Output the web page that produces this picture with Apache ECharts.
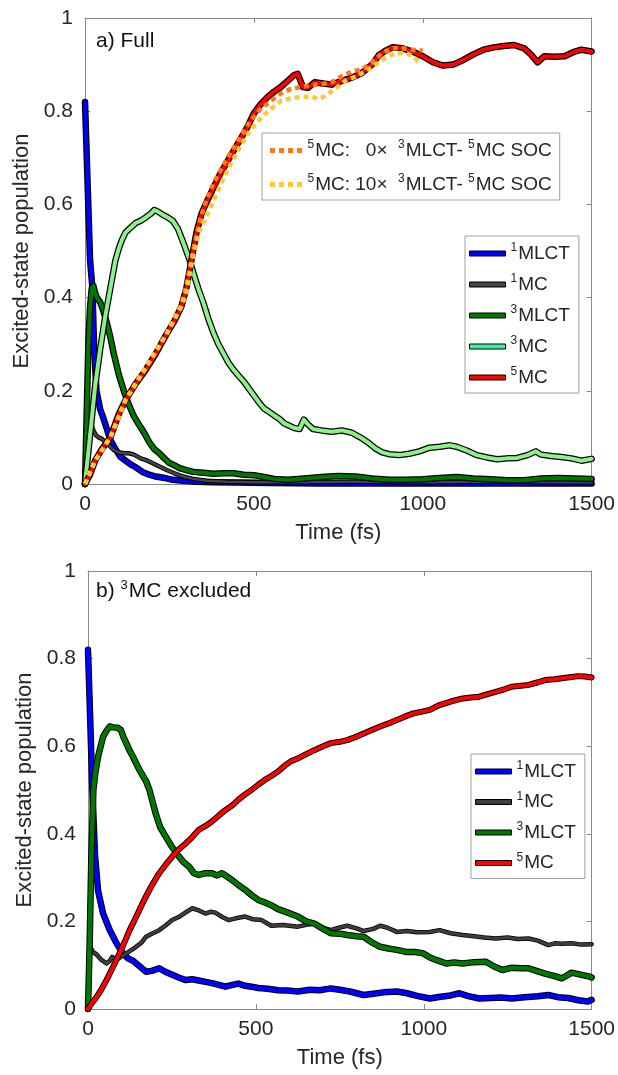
<!DOCTYPE html>
<html lang="en">
<head>
    <meta charset="UTF-8"/>
    <title>Excited-state population</title>
    <script src="https://cdn.jsdelivr.net/npm/echarts@6/dist/echarts.min.js"></script>
    <style>
        html, body { margin: 0; padding: 0; background: #fff; }
        #chart { width: 618px; height: 1075px; }
    </style>
</head>
<body>
<div id="chart"></div>
<script type="text/javascript">
    // ---- panel a) Full ----
    var tA_1MLCT = [0, 15, 22, 27, 34, 45, 55, 75, 90, 105, 120, 135, 150, 170, 190, 210, 235, 260, 290, 330, 380, 450, 550, 700, 900, 1100, 1300, 1500];
    var vA_1MLCT = [0.82, 0.48, 0.42, 0.29, 0.2, 0.16, 0.14, 0.095, 0.075, 0.058, 0.05, 0.042, 0.036, 0.026, 0.02, 0.016, 0.013, 0.009, 0.007, 0.005, 0.004, 0.003, 0.002, 0.001, 0.001, 0.001, 0.001, 0.001];

    var tA_1MC = [0, 8, 15, 20, 25, 32, 40, 50, 65, 85, 100, 115, 130, 145, 165, 185, 205, 225, 245, 265, 290, 320, 360, 420, 500, 600, 800, 1000, 1200, 1400, 1500];
    var vA_1MC = [0, 0.08, 0.12, 0.125, 0.115, 0.105, 0.1, 0.097, 0.087, 0.073, 0.068, 0.066, 0.066, 0.063, 0.055, 0.05, 0.043, 0.036, 0.029, 0.023, 0.016, 0.011, 0.007, 0.005, 0.004, 0.004, 0.005, 0.004, 0.005, 0.004, 0.004];

    var tA_3MLCT = [0, 5, 10, 15, 20, 25, 30, 35, 45, 55, 65, 75, 85, 100, 115, 130, 145, 160, 175, 190, 205, 220, 235, 250, 265, 280, 300, 320, 350, 380, 410, 440, 470, 500, 530, 560, 600, 650, 700, 750, 800, 850, 900, 950, 1000, 1050, 1100, 1150, 1200, 1250, 1300, 1350, 1400, 1450, 1500];
    var vA_3MLCT = [0, 0.15, 0.3, 0.38, 0.42, 0.425, 0.41, 0.4, 0.39, 0.37, 0.345, 0.315, 0.28, 0.235, 0.2, 0.17, 0.145, 0.127, 0.11, 0.09, 0.075, 0.066, 0.055, 0.045, 0.04, 0.034, 0.03, 0.026, 0.024, 0.022, 0.023, 0.023, 0.02, 0.019, 0.015, 0.011, 0.009, 0.012, 0.015, 0.017, 0.016, 0.012, 0.009, 0.009, 0.01, 0.013, 0.015, 0.012, 0.01, 0.008, 0.008, 0.012, 0.013, 0.012, 0.011];

    var tA_3MC = [0, 10, 20, 30, 45, 60, 75, 90, 100, 110, 120, 135, 150, 165, 180, 195, 205, 215, 230, 245, 260, 275, 290, 300, 310, 320, 335, 350, 365, 380, 395, 410, 425, 440, 455, 470, 485, 500, 515, 530, 545, 560, 575, 590, 605, 620, 635, 648, 660, 675, 700, 730, 760, 790, 820, 840, 860, 880, 900, 930, 960, 990, 1020, 1050, 1080, 1100, 1130, 1160, 1190, 1220, 1250, 1280, 1310, 1335, 1350, 1380, 1410, 1440, 1470, 1500];
    var vA_3MC = [0, 0.07, 0.14, 0.21, 0.29, 0.36, 0.42, 0.48, 0.505, 0.525, 0.54, 0.55, 0.56, 0.565, 0.572, 0.58, 0.588, 0.585, 0.578, 0.572, 0.565, 0.548, 0.52, 0.5, 0.48, 0.455, 0.42, 0.39, 0.355, 0.325, 0.3, 0.28, 0.26, 0.245, 0.232, 0.22, 0.205, 0.19, 0.175, 0.162, 0.155, 0.147, 0.14, 0.13, 0.125, 0.12, 0.118, 0.138, 0.128, 0.118, 0.115, 0.112, 0.115, 0.11, 0.098, 0.088, 0.076, 0.068, 0.064, 0.062, 0.065, 0.07, 0.078, 0.08, 0.083, 0.08, 0.072, 0.062, 0.057, 0.053, 0.055, 0.056, 0.062, 0.07, 0.063, 0.06, 0.058, 0.055, 0.05, 0.054];

    var tA_5MC = [0, 15, 30, 50, 75, 100, 120, 150, 180, 210, 240, 265, 285, 300, 315, 330, 345, 360, 380, 400, 420, 440, 460, 480, 500, 520, 540, 560, 580, 600, 620, 630, 645, 660, 680, 700, 730, 760, 790, 820, 850, 870, 890, 910, 940, 970, 1000, 1030, 1060, 1090, 1120, 1150, 1180, 1210, 1240, 1270, 1300, 1320, 1340, 1360, 1390, 1420, 1450, 1470, 1500];
    var vA_5MC = [0, 0.02, 0.05, 0.075, 0.1, 0.15, 0.18, 0.215, 0.245, 0.28, 0.32, 0.35, 0.38, 0.42, 0.48, 0.54, 0.58, 0.605, 0.635, 0.665, 0.69, 0.715, 0.74, 0.765, 0.795, 0.815, 0.83, 0.842, 0.852, 0.865, 0.878, 0.88, 0.852, 0.85, 0.862, 0.86, 0.857, 0.865, 0.872, 0.882, 0.9, 0.92, 0.93, 0.937, 0.935, 0.928, 0.918, 0.905, 0.898, 0.9, 0.91, 0.922, 0.932, 0.937, 0.94, 0.942, 0.935, 0.922, 0.905, 0.918, 0.917, 0.918, 0.928, 0.932, 0.928];

    var tA_soc0 = [0, 30, 75, 120, 180, 240, 285, 300, 320, 340, 360, 380, 400, 430, 460, 490, 520, 550, 580, 610, 640, 670, 700, 730, 760, 790, 820, 850, 880, 910, 940, 970, 1000];
    var vA_soc0 = [0, 0.05, 0.1, 0.18, 0.25, 0.32, 0.385, 0.425, 0.5, 0.565, 0.61, 0.645, 0.672, 0.71, 0.745, 0.78, 0.805, 0.822, 0.838, 0.848, 0.852, 0.856, 0.858, 0.862, 0.875, 0.885, 0.89, 0.905, 0.925, 0.935, 0.935, 0.932, 0.93];

    var tA_soc10 = [0, 30, 75, 120, 180, 240, 285, 300, 320, 340, 370, 400, 430, 460, 490, 520, 550, 580, 610, 640, 670, 690, 710, 740, 770, 800, 830, 860, 890, 920, 950, 970, 990];
    var vA_soc10 = [0, 0.05, 0.1, 0.18, 0.25, 0.32, 0.38, 0.41, 0.49, 0.545, 0.59, 0.64, 0.685, 0.725, 0.76, 0.785, 0.805, 0.822, 0.828, 0.83, 0.832, 0.826, 0.832, 0.848, 0.865, 0.874, 0.885, 0.9, 0.915, 0.925, 0.925, 0.918, 0.905];

    // ---- panel b) 3MC excluded ----
    var tB_1MLCT = [0, 5, 13, 21, 30, 45, 65, 85, 104, 120, 134, 150, 173, 190, 212, 230, 251, 270, 291, 310, 330, 350, 369, 390, 409, 430, 448, 468, 487, 507, 527, 546, 566, 595, 625, 660, 690, 723, 750, 780, 821, 850, 880, 920, 950, 980, 1018, 1050, 1080, 1106, 1130, 1165, 1200, 1230, 1263, 1300, 1340, 1371, 1400, 1430, 1460, 1489, 1500];
    var vB_1MLCT = [0.82, 0.7, 0.5, 0.35, 0.27, 0.218, 0.18, 0.15, 0.127, 0.115, 0.11, 0.1, 0.085, 0.087, 0.093, 0.085, 0.078, 0.072, 0.066, 0.068, 0.065, 0.062, 0.059, 0.055, 0.051, 0.055, 0.058, 0.053, 0.051, 0.048, 0.047, 0.045, 0.043, 0.042, 0.04, 0.044, 0.043, 0.047, 0.044, 0.04, 0.032, 0.035, 0.038, 0.04, 0.036, 0.03, 0.024, 0.028, 0.031, 0.036, 0.03, 0.024, 0.025, 0.026, 0.024, 0.027, 0.029, 0.032, 0.027, 0.025, 0.02, 0.017, 0.021];

    var tB_1MC = [0, 4, 8, 15, 25, 40, 55, 65, 72, 84, 100, 114, 130, 143, 160, 173, 190, 212, 230, 251, 270, 290, 310, 330, 350, 365, 379, 400, 418, 440, 468, 490, 517, 546, 580, 625, 650, 674, 700, 723, 750, 772, 800, 821, 850, 870, 890, 920, 950, 980, 1018, 1047, 1080, 1116, 1150, 1180, 1214, 1250, 1280, 1312, 1340, 1371, 1390, 1411, 1440, 1470, 1500];
    var vB_1MC = [0, 0.15, 0.14, 0.13, 0.125, 0.112, 0.104, 0.11, 0.119, 0.112, 0.12, 0.127, 0.135, 0.142, 0.152, 0.165, 0.172, 0.18, 0.19, 0.203, 0.21, 0.22, 0.23, 0.225, 0.218, 0.222, 0.22, 0.21, 0.203, 0.207, 0.211, 0.205, 0.203, 0.19, 0.192, 0.188, 0.192, 0.195, 0.186, 0.18, 0.186, 0.19, 0.184, 0.178, 0.183, 0.19, 0.186, 0.176, 0.178, 0.175, 0.176, 0.18, 0.173, 0.169, 0.166, 0.163, 0.161, 0.163, 0.16, 0.161, 0.156, 0.146, 0.15, 0.149, 0.15, 0.147, 0.148];

    var tB_3MLCT = [0, 5, 10, 16, 22, 30, 45, 55, 65, 75, 89, 98, 106, 114, 124, 134, 153, 173, 183, 202, 215, 232, 250, 271, 285, 301, 315, 330, 350, 369, 385, 399, 415, 428, 448, 468, 487, 507, 527, 546, 566, 595, 625, 650, 674, 700, 723, 750, 772, 800, 821, 845, 870, 895, 920, 950, 975, 998, 1020, 1037, 1067, 1090, 1116, 1150, 1184, 1210, 1234, 1260, 1290, 1312, 1340, 1361, 1390, 1411, 1425, 1440, 1470, 1494, 1500];
    var vB_3MLCT = [0, 0.15, 0.35, 0.5, 0.54, 0.576, 0.622, 0.635, 0.645, 0.643, 0.642, 0.637, 0.62, 0.607, 0.59, 0.576, 0.546, 0.52, 0.5, 0.445, 0.415, 0.393, 0.37, 0.348, 0.335, 0.325, 0.31, 0.306, 0.31, 0.31, 0.305, 0.31, 0.302, 0.295, 0.283, 0.272, 0.26, 0.249, 0.243, 0.237, 0.228, 0.22, 0.211, 0.2, 0.195, 0.183, 0.173, 0.172, 0.169, 0.166, 0.165, 0.152, 0.142, 0.138, 0.135, 0.13, 0.13, 0.127, 0.117, 0.112, 0.104, 0.106, 0.104, 0.107, 0.108, 0.097, 0.089, 0.094, 0.093, 0.093, 0.086, 0.081, 0.075, 0.07, 0.076, 0.083, 0.078, 0.074, 0.072];

    var tB_5MC = [0, 10, 26, 40, 55, 75, 94, 110, 124, 140, 153, 168, 183, 198, 212, 232, 251, 270, 291, 310, 330, 350, 369, 390, 409, 430, 448, 468, 487, 507, 527, 546, 566, 585, 605, 625, 650, 674, 700, 723, 750, 772, 800, 821, 845, 870, 895, 920, 945, 969, 995, 1018, 1047, 1080, 1116, 1140, 1165, 1190, 1214, 1240, 1263, 1290, 1312, 1340, 1361, 1390, 1411, 1440, 1460, 1480, 1500];
    var vB_5MC = [0, 0.012, 0.028, 0.045, 0.066, 0.097, 0.127, 0.155, 0.18, 0.205, 0.226, 0.25, 0.272, 0.292, 0.31, 0.33, 0.348, 0.364, 0.378, 0.392, 0.409, 0.418, 0.428, 0.442, 0.454, 0.465, 0.478, 0.49, 0.5, 0.512, 0.523, 0.532, 0.542, 0.555, 0.566, 0.572, 0.582, 0.591, 0.6, 0.607, 0.61, 0.614, 0.622, 0.629, 0.637, 0.645, 0.652, 0.66, 0.668, 0.675, 0.679, 0.683, 0.694, 0.702, 0.709, 0.711, 0.713, 0.719, 0.724, 0.73, 0.736, 0.738, 0.74, 0.746, 0.751, 0.753, 0.755, 0.758, 0.76, 0.759, 0.757];

    var xTicks = [0, 1500, 500];   // min, max, interval
    var yTicks = [0, 1, 0.2];

    var FONT = "'Liberation Sans', Arial, Helvetica, sans-serif";
    var TXT = '#262626';
    var AX = '#8a8a8a';

    function zip(t, v) {
        var out = [];
        for (var i = 0; i < t.length; i++) out.push([t[i], v[i]]);
        return out;
    }

    var series = [];
    // 每条曲线 = 黑色描边 + 彩色线
    function addCurve(name, t, v, color, wEdge, wLine, xi, yi) {
        var d = zip(t, v);
        series.push({
            type: 'line', name: name + '#edge', data: d, xAxisIndex: xi, yAxisIndex: yi,
            symbol: 'none', showSymbol: false, clip: false, silent: true, animation: false,
            lineStyle: {color: '#000', width: wEdge, join: 'round', cap: 'round'}
        });
        series.push({
            type: 'line', name: name, data: d, xAxisIndex: xi, yAxisIndex: yi,
            symbol: 'none', showSymbol: false, clip: false, silent: true, animation: false,
            color: color, itemStyle: {color: color},
            lineStyle: {color: color, width: wLine, join: 'round', cap: 'round'}
        });
    }
    function addDotted(name, t, v, color, xi, yi) {
        series.push({
            type: 'line', name: name, data: zip(t, v), xAxisIndex: xi, yAxisIndex: yi,
            symbol: 'none', showSymbol: false, clip: false, silent: true, animation: false,
            color: color, itemStyle: {color: color},
            lineStyle: {color: color, width: 4.5, type: [5, 4], cap: 'butt'}
        });
    }

    addCurve('1MLCT', tA_1MLCT, vA_1MLCT, '#0000ff', 6.5, 4, 0, 0);
    addCurve('1MC', tA_1MC, vA_1MC, '#454545', 4.5, 2.5, 0, 0);
    addCurve('3MLCT', tA_3MLCT, vA_3MLCT, '#007800', 6.5, 4, 0, 0);
    addCurve('3MC', tA_3MC, vA_3MC, '#8ff08b', 6.5, 4, 0, 0);
    addCurve('5MC', tA_5MC, vA_5MC, '#ff0000', 6.5, 4, 0, 0);
    addDotted('soc0', tA_soc0, vA_soc0, '#f97a1c', 0, 0);
    addDotted('soc10', tA_soc10, vA_soc10, '#ffc83a', 0, 0);

    addCurve('b:1MLCT', tB_1MLCT, vB_1MLCT, '#0000ff', 6.5, 4.5, 2, 2);
    addCurve('b:1MC', tB_1MC, vB_1MC, '#3d3d3d', 4.5, 3, 2, 2);
    addCurve('b:3MLCT', tB_3MLCT, vB_3MLCT, '#007800', 6.5, 4.5, 2, 2);
    addCurve('b:5MC', tB_5MC, vB_5MC, '#ff0000', 6, 4, 2, 2);

    var supRich = {
        s: {fontSize: 12, fontFamily: FONT, color: TXT, padding: [0, 1, 11, 0]},
        n: {fontSize: 19, fontFamily: FONT, color: TXT}
    };

    function stateLabel(name) {
        var n = name.replace(/^b:/, '');
        return '{s|' + n.charAt(0) + '}{n|' + n.slice(1) + '}';
    }

    function plainNum(v) { return String(v); }

    function xAxes(gi) {
        return [{
            type: 'value', gridIndex: gi, position: 'bottom',
            min: xTicks[0], max: xTicks[1], interval: xTicks[2],
            name: 'Time (fs)', nameLocation: 'middle', nameGap: 38,
            nameTextStyle: {fontSize: 22, fontFamily: FONT, color: TXT},
            axisLine: {show: true, onZero: false, lineStyle: {color: AX, width: 1}},
            axisTick: {show: true, inside: true, length: 5, lineStyle: {color: AX}},
            axisLabel: {fontSize: 21, fontFamily: FONT, color: TXT, margin: 10, formatter: plainNum},
            splitLine: {show: false}
        }, {
            type: 'value', gridIndex: gi, position: 'top',
            min: xTicks[0], max: xTicks[1], interval: xTicks[2],
            axisLine: {show: true, onZero: false, lineStyle: {color: AX, width: 1}},
            axisTick: {show: true, inside: true, length: 5, lineStyle: {color: AX}},
            axisLabel: {show: false},
            splitLine: {show: false}
        }];
    }
    function yAxes(gi) {
        return [{
            type: 'value', gridIndex: gi, position: 'left',
            min: yTicks[0], max: yTicks[1], interval: yTicks[2],
            name: 'Excited-state population', nameLocation: 'middle', nameGap: 52,
            nameTextStyle: {fontSize: 22, fontFamily: FONT, color: TXT},
            axisLine: {show: true, onZero: false, lineStyle: {color: AX, width: 1}},
            axisTick: {show: true, inside: true, length: 5, lineStyle: {color: AX}},
            axisLabel: {fontSize: 21, fontFamily: FONT, color: TXT, margin: 12, formatter: plainNum},
            splitLine: {show: false}
        }, {
            type: 'value', gridIndex: gi, position: 'right',
            min: yTicks[0], max: yTicks[1], interval: yTicks[2],
            axisLine: {show: true, onZero: false, lineStyle: {color: AX, width: 1}},
            axisTick: {show: true, inside: true, length: 5, lineStyle: {color: AX}},
            axisLabel: {show: false},
            splitLine: {show: false}
        }];
    }

    var solidLegend = {
        orient: 'vertical', icon: 'rect', itemWidth: 36, itemHeight: 5,
        itemStyle: {borderColor: '#000', borderWidth: 1},
        backgroundColor: '#fff', borderColor: '#a0a0a0', borderWidth: 1, borderRadius: 0,
        selectedMode: false, formatter: stateLabel,
        textStyle: {rich: supRich}
    };

    var option = {
        animation: false,
        backgroundColor: '#fff',
        textStyle: {fontFamily: FONT},
        grid: [
            {left: 85, top: 18, width: 510, height: 466, containLabel: false},
            {left: 88, top: 571, width: 509, height: 438, containLabel: false}
        ],
        xAxis: xAxes(0).concat(xAxes(1)),
        yAxis: yAxes(0).concat(yAxes(1)),
        title: [
            {text: 'a) Full', left: 96, top: 31, padding: 0,
                textStyle: {fontSize: 21, fontWeight: 'normal', fontFamily: FONT, color: '#111'}},
            {text: '{n|b) }{s|3}{n|MC excluded}', left: 96, top: 579, padding: 0,
                textStyle: {fontWeight: 'normal', rich: {
                    n: {fontSize: 21, fontWeight: 'normal', fontFamily: FONT, color: '#111'},
                    s: {fontSize: 13, fontWeight: 'normal', fontFamily: FONT, color: '#111', padding: [0, 1, 11, 0]}
                }}}
        ],
        legend: [
            Object.assign({}, solidLegend, {
                left: 465, top: 236, padding: [6, 9, 6, 4], itemGap: 10,
                data: ['1MLCT', '1MC', '3MLCT', {name: '3MC', itemStyle: {color: '#3ff0a0'}}, '5MC']
            }),
            Object.assign({}, solidLegend, {
                left: 471, top: 754, padding: [6, 9, 6, 4], itemGap: 9.5,
                data: ['b:1MLCT', 'b:1MC', 'b:3MLCT', 'b:5MC']
            }),
            {
                orient: 'vertical', left: 262, top: 133, padding: [6, 8, 6, 8], itemGap: 13,
                icon: 'path://M0 0h5v5h-5zM9 0h5v5h-5zM18 0h5v5h-5zM27 0h5v5h-5z',
                itemWidth: 33, itemHeight: 5, itemStyle: {borderWidth: 0},
                backgroundColor: '#fff', borderColor: '#a0a0a0', borderWidth: 1,
                selectedMode: false,
                data: ['soc0', 'soc10'],
                formatter: function (name) {
                    var k = name === 'soc0' ? '   0×  ' : ' 10×  ';
                    return '{s|5}{n|MC:' + k + '}{s|3}{n|MLCT- }{s|5}{n|MC SOC}';
                },
                textStyle: {rich: supRich}
            }
        ],
        series: series
    };

    var myChart = echarts.init(document.getElementById('chart'), null, {renderer: 'canvas'});
    myChart.setOption(option);
</script>
</body>
</html>
